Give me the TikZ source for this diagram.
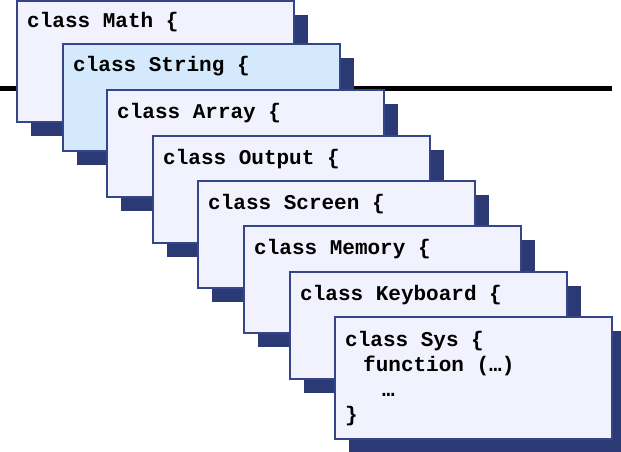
\documentclass[tikz,border=0pt]{standalone}
\usepackage{fontspec}
\setmonofont{Liberation Mono}
\usetikzlibrary{shadows}
\definecolor{boxfill}{HTML}{F2F2FE}
\definecolor{strfill}{HTML}{D5E9FC}
\definecolor{boxline}{HTML}{34458A}
\definecolor{shade}{HTML}{2B3A74}
\tikzset{
  classbox/.style={draw=boxline, line width=1.5pt, fill=boxfill, rectangle,
    anchor=north west, inner sep=0pt, outer sep=0pt,
    minimum width=277pt, minimum height=107pt,
    drop shadow={shadow xshift=14pt, shadow yshift=-14pt, fill=shade, opacity=1}},
  code/.style={font=\fontsize{21}{25}\selectfont\ttfamily\bfseries,
    anchor=base west, inner sep=0pt, align=left},
  rule/.style={line width=5pt, black}
}
\begin{document}
\begin{tikzpicture}[x=1pt,y=-1pt]
\useasboundingbox (0,0) rectangle (621,452);
\clip (0,0) rectangle (621,452);
\coordinate (l0) at (0,88);
\coordinate (l1) at (612,88);
\draw[rule] (l0) -- (l1);

\node[classbox, minimum height=121pt] (math) at (17,1) {};
\node[code] (tmath) at ([xshift=10pt,yshift=-27pt]math.north west) {class Math \{};

\node[classbox, fill=strfill] (string) at (63,44) {};
\node[code] (tstring) at ([xshift=10pt,yshift=-28pt]string.north west) {class String \{};

\node[classbox] (array) at (107,90) {};
\node[code] (tarray) at ([xshift=10pt,yshift=-28pt]array.north west) {class Array \{};

\node[classbox] (output) at (153,136) {};
\node[code] (toutput) at ([xshift=10pt,yshift=-28pt]output.north west) {class Output \{};

\node[classbox] (screen) at (198,181) {};
\node[code] (tscreen) at ([xshift=10pt,yshift=-28pt]screen.north west) {class Screen \{};

\node[classbox] (memory) at (244,226) {};
\node[code] (tmemory) at ([xshift=10pt,yshift=-28pt]memory.north west) {class Memory \{};

\node[classbox] (keyboard) at (290,272) {};
\node[code] (tkeyboard) at ([xshift=10pt,yshift=-28pt]keyboard.north west) {class Keyboard \{};

\node[classbox, minimum height=122pt] (sys) at (335,317) {};
\node[code, anchor=north west] (tsys) at ([xshift=10pt,yshift=-14pt]sys.north west)
  {class Sys \{\\\hspace*{18pt}function (…)\\\hspace*{37pt}…\\\}};
\end{tikzpicture}
\end{document}
